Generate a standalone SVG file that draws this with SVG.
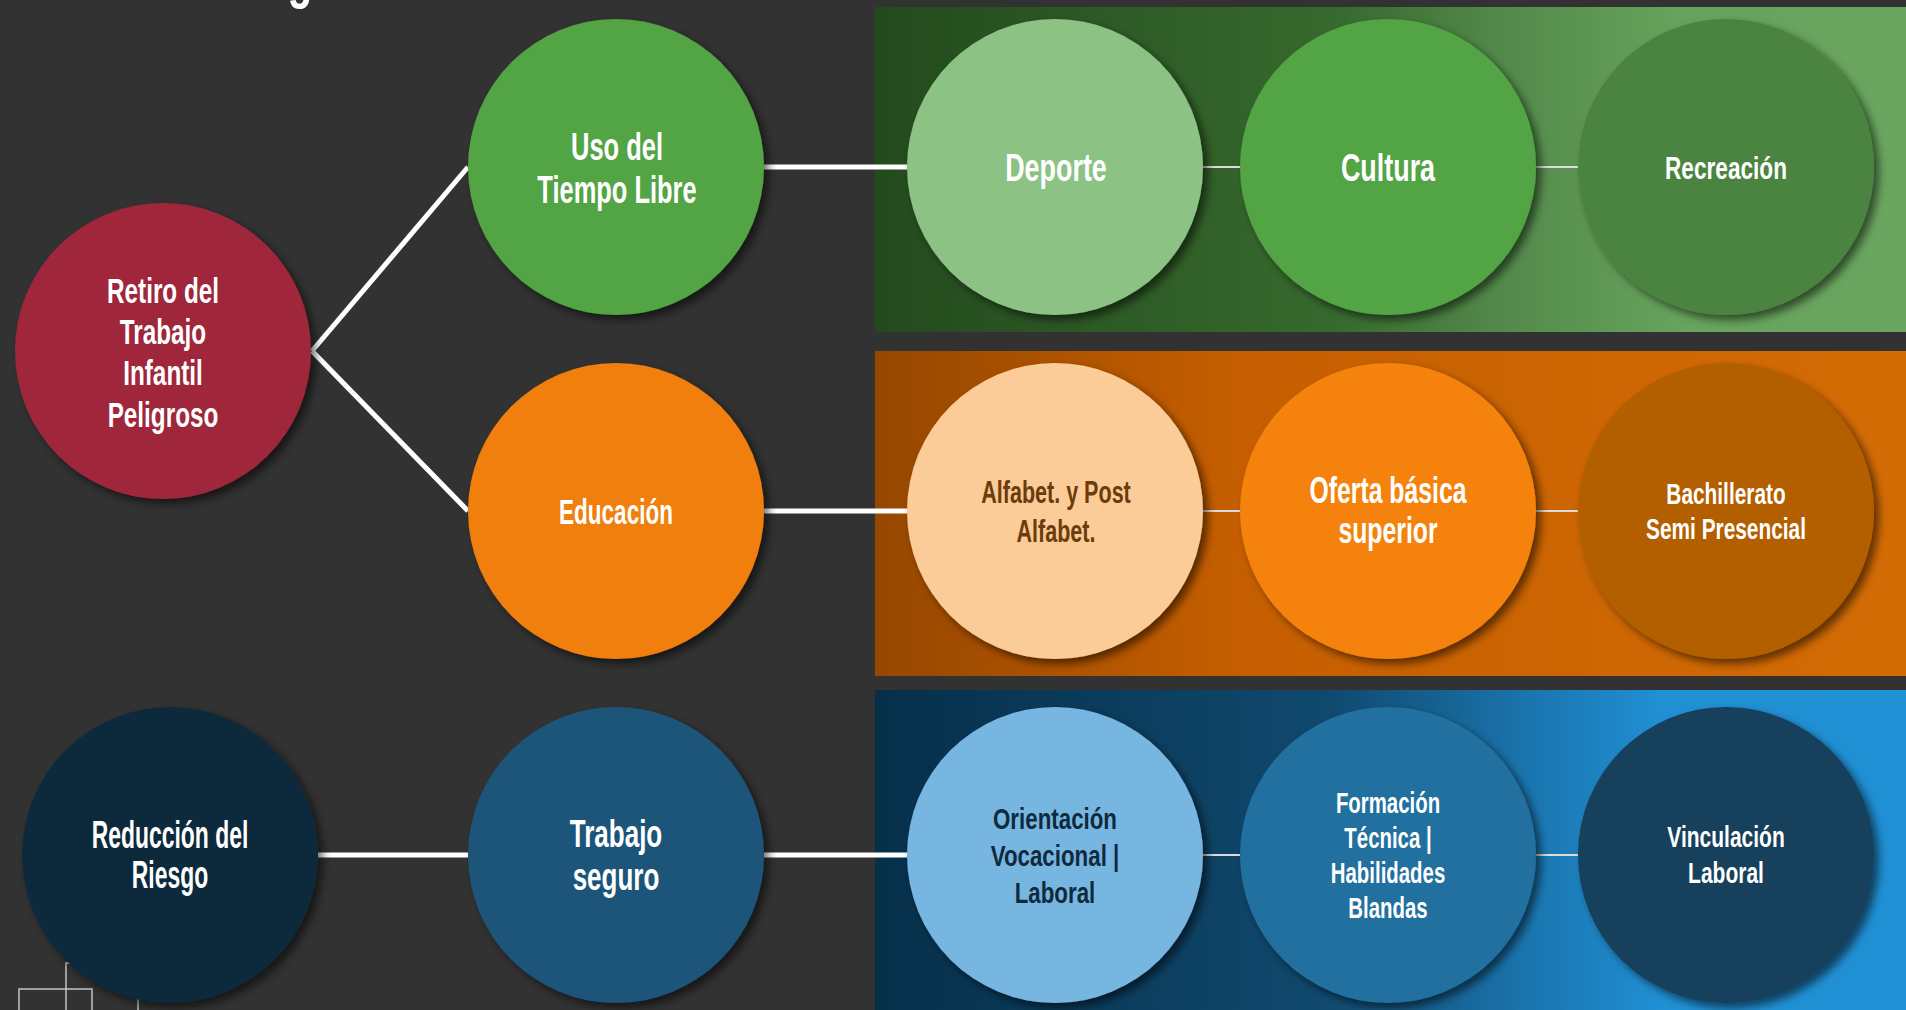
<svg xmlns="http://www.w3.org/2000/svg" width="1906" height="1010" viewBox="0 0 1906 1010">
<style>
.t{font-family:"Liberation Sans","Arial",sans-serif;font-weight:bold;text-anchor:middle;fill:#ffffff}
.thick{stroke:#ffffff;stroke-width:5;fill:none}
.thin{stroke:#dcdcdc;stroke-width:2;fill:none}
.icon{stroke:#c4c4c4;stroke-width:1.5;fill:none}
</style>
<defs>
<filter id="sh" x="-20%" y="-20%" width="150%" height="150%">
<feDropShadow dx="5" dy="5" stdDeviation="4" flood-color="#000000" flood-opacity="0.55"/>
</filter>
<linearGradient id="gGreen" x1="875" y1="0" x2="1906" y2="0" gradientUnits="userSpaceOnUse">
<stop offset="0" stop-color="#234a1d"/>
<stop offset="0.45" stop-color="#376a2e"/>
<stop offset="0.6" stop-color="#52884a"/>
<stop offset="0.78" stop-color="#67a35c"/>
<stop offset="1" stop-color="#6aa65f"/>
</linearGradient>
<linearGradient id="gOrange" x1="875" y1="0" x2="1906" y2="0" gradientUnits="userSpaceOnUse">
<stop offset="0" stop-color="#964700"/>
<stop offset="0.35" stop-color="#c55e00"/>
<stop offset="1" stop-color="#d46c05"/>
</linearGradient>
<linearGradient id="gBlue" x1="875" y1="0" x2="1906" y2="0" gradientUnits="userSpaceOnUse">
<stop offset="0" stop-color="#062f4a"/>
<stop offset="0.44" stop-color="#10496e"/>
<stop offset="0.63" stop-color="#1a74ad"/>
<stop offset="0.76" stop-color="#208fd3"/>
<stop offset="1" stop-color="#2090d4"/>
</linearGradient>
</defs>
<rect x="0" y="0" width="1906" height="1010" fill="#323232"/>
<g transform="translate(300,0) scale(0.68,1)"><text class="t" x="0" y="-3" font-size="60">g</text></g>
<g id="bands">
<rect x="875" y="7" width="1031" height="325" fill="url(#gGreen)"/>
<rect x="875" y="351" width="1031" height="325" fill="url(#gOrange)"/>
<rect x="875" y="690" width="1031" height="320" fill="url(#gBlue)"/>
</g>
<g id="decor">
<path class="icon" d="M66,1010 V963 H70"/>
<path class="icon" d="M19,1010 V989 H92 V1010"/>
<path class="icon" d="M138,1010 V999"/>
</g>
<g id="connectors">
<path class="thick" d="M312,351 L468,167"/>
<path class="thick" d="M312,351 L468,511"/>
<path class="thick" d="M764,167 H907"/>
<path class="thick" d="M764,511 H907"/>
<path class="thick" d="M764,855 H907"/>
<path class="thick" d="M318,855 H468"/>
<path class="thin" d="M1203,167 H1240 M1535,167 H1578"/>
<path class="thin" d="M1203,511 H1240 M1535,511 H1578"/>
<path class="thin" d="M1203,855 H1240 M1535,855 H1578"/>
</g>
<g id="n-retiro">
<circle cx="163" cy="351" r="148" fill="#a0283a" filter="url(#sh)"/>
<g transform="translate(163,0) scale(0.675,1)"><text class="t" font-size="36"><tspan x="0" y="303">Retiro del</tspan><tspan x="0" y="344">Trabajo</tspan><tspan x="0" y="385">Infantil</tspan><tspan x="0" y="427">Peligroso</tspan></text></g>
</g>
<g id="n-uso">
<circle cx="616" cy="167" r="148" fill="#52a444" filter="url(#sh)"/>
<g transform="translate(617,0) scale(0.653,1)"><text class="t" font-size="39"><tspan x="0" y="160">Uso del</tspan><tspan x="0" y="203">Tiempo Libre</tspan></text></g>
</g>
<g id="n-educacion">
<circle cx="616" cy="511" r="148" fill="#f07f0a" filter="url(#sh)"/>
<g transform="translate(616,0) scale(0.626,1)"><text class="t" font-size="36" x="0" y="524">Educación</text></g>
</g>
<g id="n-trabajo">
<circle cx="616" cy="855" r="148" fill="#1d5579" filter="url(#sh)"/>
<g transform="translate(616,0) scale(0.667,1)"><text class="t" font-size="39"><tspan x="0" y="847">Trabajo</tspan><tspan x="0" y="890">seguro</tspan></text></g>
</g>
<g id="n-reduccion">
<circle cx="170" cy="855" r="148" fill="#112a3d" filter="url(#sh)"/>
<g transform="translate(170,0) scale(0.603,1)"><text class="t" font-size="38"><tspan x="0" y="848">Reducción del</tspan><tspan x="0" y="888">Riesgo</tspan></text></g>
</g>
<g id="n-deporte">
<circle cx="1055" cy="167" r="148" fill="#8cc283" filter="url(#sh)"/>
<g transform="translate(1056,0) scale(0.69,1)"><text class="t" font-size="39" x="0" y="181">Deporte</text></g>
</g>
<g id="n-cultura">
<circle cx="1388" cy="167" r="148" fill="#53a444" filter="url(#sh)"/>
<g transform="translate(1388,0) scale(0.69,1)"><text class="t" font-size="39" x="0" y="181">Cultura</text></g>
</g>
<g id="n-recreacion">
<circle cx="1726" cy="167" r="148" fill="#4c843f" filter="url(#sh)"/>
<g transform="translate(1726,0) scale(0.707,1)"><text class="t" font-size="32" x="0" y="179">Recreación</text></g>
</g>
<g id="n-alfabet">
<circle cx="1055" cy="511" r="148" fill="#fbcb98" filter="url(#sh)"/>
<g transform="translate(1056,0) scale(0.673,1)"><text class="t" font-size="32" style="fill:#6b3c0c"><tspan x="0" y="503">Alfabet. y Post</tspan><tspan x="0" y="542">Alfabet.</tspan></text></g>
</g>
<g id="n-oferta">
<circle cx="1388" cy="511" r="148" fill="#f5820f" filter="url(#sh)"/>
<g transform="translate(1388,0) scale(0.67,1)"><text class="t" font-size="37"><tspan x="0" y="503">Oferta básica</tspan><tspan x="0" y="543">superior</tspan></text></g>
</g>
<g id="n-bachillerato">
<circle cx="1726" cy="511" r="148" fill="#b35e06" filter="url(#sh)"/>
<g transform="translate(1726,0) scale(0.695,1)"><text class="t" font-size="30"><tspan x="0" y="504">Bachillerato</tspan><tspan x="0" y="539">Semi Presencial</tspan></text></g>
</g>
<g id="n-orientacion">
<circle cx="1055" cy="855" r="148" fill="#78b6e2" filter="url(#sh)"/>
<g transform="translate(1055,0) scale(0.744,1)"><text class="t" font-size="30" style="fill:#0f2a3d"><tspan x="0" y="829">Orientación</tspan><tspan x="0" y="866">Vocacional |</tspan><tspan x="0" y="903">Laboral</tspan></text></g>
</g>
<g id="n-formacion">
<circle cx="1388" cy="855" r="148" fill="#226f9f" filter="url(#sh)"/>
<g transform="translate(1388,0) scale(0.68,1)"><text class="t" font-size="30"><tspan x="0" y="813">Formación</tspan><tspan x="0" y="848">Técnica |</tspan><tspan x="0" y="883">Habilidades</tspan><tspan x="0" y="918">Blandas</tspan></text></g>
</g>
<g id="n-vinculacion">
<circle cx="1726" cy="855" r="148" fill="#133f5c" filter="url(#sh)"/>
<g transform="translate(1726,0) scale(0.70,1)"><text class="t" font-size="30"><tspan x="0" y="847">Vinculación</tspan><tspan x="0" y="883">Laboral</tspan></text></g>
</g>
</svg>
